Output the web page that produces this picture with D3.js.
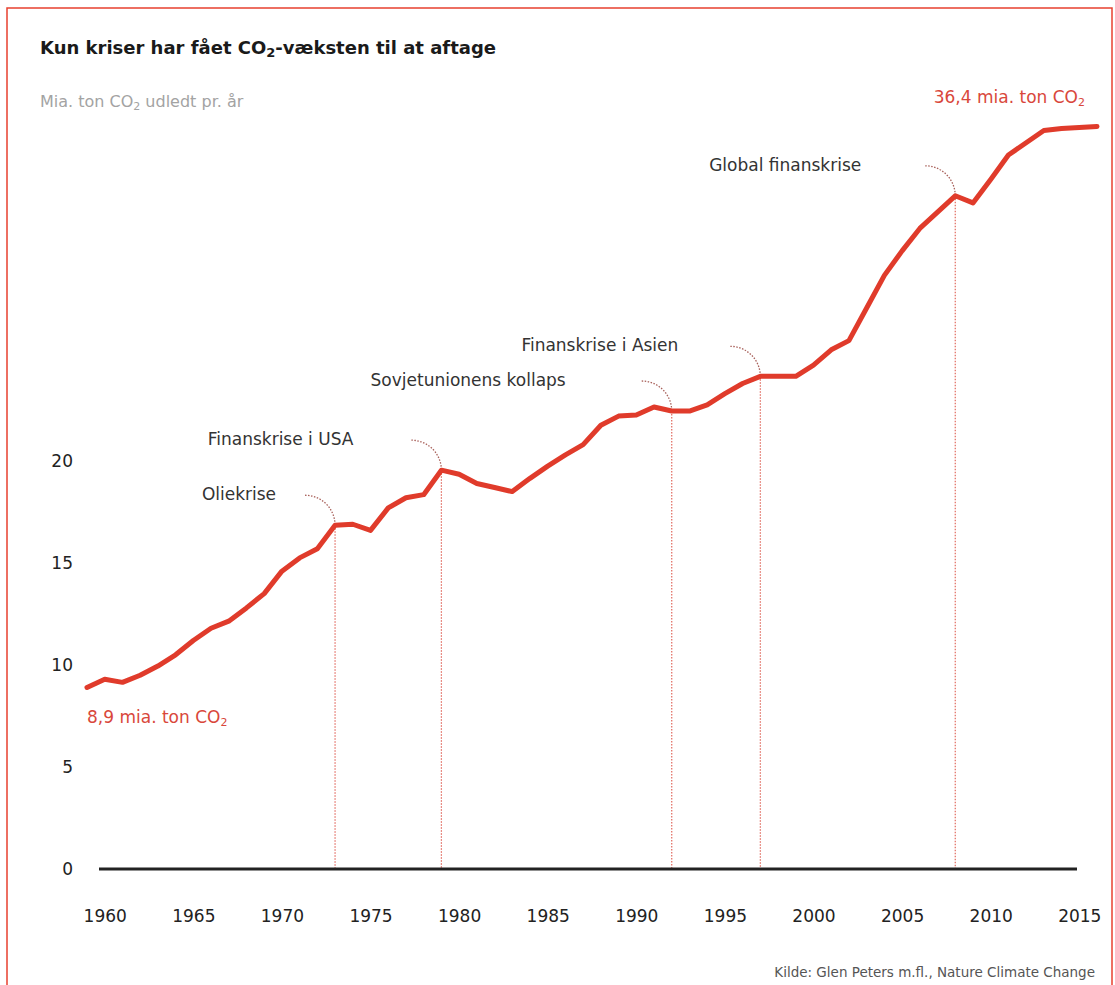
<!DOCTYPE html>
<html>
<head>
<meta charset="utf-8">
<script src="https://cdn.jsdelivr.net/npm/d3@7"></script>
<style>
  body { margin: 0; background: #fff; }
  svg text { font-family: "DejaVu Sans", "Noto Sans", sans-serif; }
</style>
</head>
<body>
<div id="chart"></div>
<script>
// data (mia. ton CO2 per year)
const years = [1959, 1960, 1961, 1962, 1963, 1964, 1965, 1966, 1967, 1968,
  1969, 1970, 1971, 1972, 1973, 1974, 1975, 1976, 1977, 1978,
  1979, 1980, 1981, 1982, 1983, 1984, 1985, 1986, 1987, 1988,
  1989, 1990, 1991, 1992, 1993, 1994, 1995, 1996, 1997, 1998,
  1999, 2000, 2001, 2002, 2003, 2004, 2005, 2006, 2007, 2008,
  2009, 2010, 2011, 2012, 2013, 2014, 2015, 2016];
const emissions = [8.9, 9.3, 9.15, 9.5, 9.95, 10.5, 11.2, 11.8, 12.15, 12.8,
  13.5, 14.6, 15.25, 15.7, 16.85, 16.9, 16.6, 17.7, 18.2, 18.35,
  19.55, 19.35, 18.9, 18.7, 18.5, 19.15, 19.75, 20.3, 20.8, 21.75,
  22.2, 22.25, 22.65, 22.45, 22.45, 22.75, 23.3, 23.8, 24.15, 24.15,
  24.15, 24.7, 25.45, 25.9, 27.5, 29.1, 30.3, 31.4, 32.2, 33.0,
  32.65, 33.8, 35.0, 35.6, 36.2, 36.3, 36.35, 36.4];

const crisisYears = [1973, 1979, 1992, 1997, 2008];
const crisisNames = ["Oliekrise", "Finanskrise i USA", "Sovjetunionens kollaps",
  "Finanskrise i Asien", "Global finanskrise"];

const xTicks = [1960, 1965, 1970, 1975, 1980, 1985, 1990, 1995, 2000, 2005, 2010, 2015];
const yTicks = [0, 5, 10, 15, 20];

// layout
const W = 1115, H = 985;
const labelGap = [29, 58, 76, 52, 64]; // space between label and arc
const arcR = 30;
const red = "#e03b2b";

const byYear = new Map(years.map((y, i) => [y, emissions[i]]));

const svg = d3.select("#chart").append("svg")
  .attr("width", W)
  .attr("height", H);

svg.append("rect")
  .attr("x", 7).attr("y", 8)
  .attr("width", 1105).attr("height", 990)
  .attr("fill", "none")
  .attr("stroke", "#e8402f")
  .attr("stroke-width", 1.5);

let x = d3.scaleLinear().domain([1959, 2016]).range([87, 1097]);
let y = d3.scaleLinear().domain([0, 20]).range([869, 461]);

// title + subtitle
let title = svg.append("text")
  .attr("x", 40).attr("y", 54)
  .style("font-size", "18px").style("font-weight", "700")
  .attr("fill", "#1a1a1a");
title.append("tspan").text("Kun kriser har fået CO");
title.append("tspan").text("2").style("font-size", "13px").attr("dy", 3);
title.append("tspan").text("-væksten til at aftage").attr("dy", -3);

let sub = svg.append("text")
  .attr("x", 40).attr("y", 107)
  .style("font-size", "16px")
  .attr("fill", "#a3a3a3");
sub.append("tspan").text("Mia. ton CO");
sub.append("tspan").text("2").style("font-size", "11px").attr("dy", 3);
sub.append("tspan").text(" udledt pr. år").attr("dy", -3);

// y axis
let yAxis = svg.append("g")
  .attr("transform", "translate(73,0)")
  .call(d3.axisLeft(y).tickValues(yTicks).tickSize(0).tickPadding(0));
yAxis.select(".domain").remove();
yAxis.selectAll("text")
  .style("font-size", "17px")
  .attr("fill", "#222");

// x axis
let xAxis = svg.append("g")
  .attr("transform", "translate(0,869)")
  .call(d3.axisBottom(x).tickValues(xTicks).tickFormat(d3.format("d")).tickSize(0).tickPadding(41));
xAxis.select(".domain").remove();
xAxis.selectAll("text")
  .style("font-size", "17px")
  .attr("fill", "#222");

// crisis markers
let crisis = svg.selectAll(".crisis")
  .data(crisisYears)
  .enter().append("g")
  .attr("class", "crisis");

crisis.append("line")
  .attr("x1", d => x(d)).attr("x2", d => x(d))
  .attr("y1", d => y(byYear.get(d)))
  .attr("y2", y(0))
  .attr("stroke", "#e0675c")
  .attr("stroke-width", 1.2)
  .attr("stroke-dasharray", "1.5,1.5");

crisis.append("path")
  .attr("d", d => {
    let cx = x(d), cy = y(byYear.get(d));
    return "M" + (cx - arcR) + "," + (cy - arcR) + " A" + arcR + "," + arcR + " 0 0 1 " + cx + "," + cy;
  })
  .attr("fill", "none")
  .attr("stroke", "#a8605a")
  .attr("stroke-width", 1.3)
  .attr("stroke-dasharray", "1.5,1.5");

crisis.append("text")
  .attr("x", (d, i) => x(d) - arcR - labelGap[i])
  .attr("y", d => y(byYear.get(d)) - arcR)
  .attr("dy", "0.3em")
  .attr("text-anchor", "end")
  .style("font-size", "17px")
  .attr("fill", "#333")
  .text((d, i) => crisisNames[i]);

// baseline
svg.append("line")
  .attr("x1", 99).attr("x2", 1077)
  .attr("y1", y(0)).attr("y2", y(0))
  .attr("stroke", "#222")
  .attr("stroke-width", 3);

// main line
let line = d3.line()
  .x((d, i) => x(years[i]))
  .y(d => y(d));

svg.append("path")
  .datum(emissions)
  .attr("d", line)
  .attr("fill", "none")
  .attr("stroke", red)
  .attr("stroke-width", 5)
  .attr("stroke-linejoin", "round")
  .attr("stroke-linecap", "round");

// end labels
function co2Label(txt, px, py, anchor) {
  let t = svg.append("text")
    .attr("x", px).attr("y", py)
    .attr("text-anchor", anchor)
    .style("font-size", "17px")
    .attr("fill", "#d9473b");
  t.append("tspan").text(txt + " mia. ton CO");
  t.append("tspan").text("2").style("font-size", "11px").attr("dy", 3);
}
let first = emissions[0], last = emissions[emissions.length - 1];
co2Label(d3.format(".1f")(first).replace(".", ","), x(years[0]), y(first) + 36, "start");
co2Label(d3.format(".1f")(last).replace(".", ","), 1085, y(last) - 23, "end");

// source
svg.append("text")
  .attr("x", 1095).attr("y", 977)
  .attr("text-anchor", "end")
  .style("font-size", "13.5px")
  .attr("fill", "#555")
  .text("Kilde: Glen Peters m.fl., Nature Climate Change");
</script>
</body>
</html>
